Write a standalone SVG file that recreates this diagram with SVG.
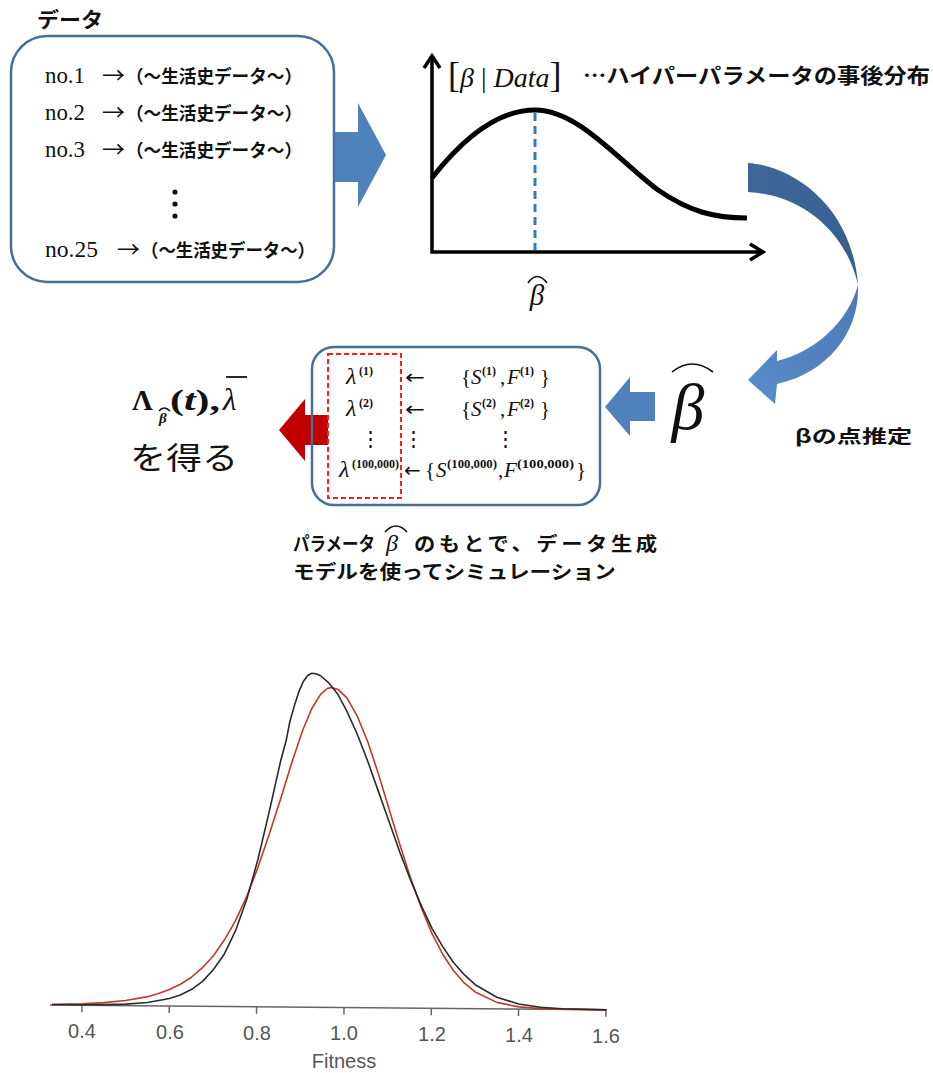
<svg xmlns="http://www.w3.org/2000/svg" width="933" height="1073" viewBox="0 0 933 1073">
<style>
.jp{font-family:"Noto Sans CJK JP","Noto Sans",sans-serif;font-weight:700;fill:#111}
.jpn{font-family:"Noto Sans CJK JP","Noto Sans",sans-serif;font-weight:400;fill:#111}
.ser{font-family:"Liberation Serif","Noto Sans CJK JP",serif;fill:#111}
.it{font-style:italic}
.lam{font-style:italic;font-size:24px}
.sup{font-size:12px;font-weight:700}
.la{font-family:"DejaVu Sans",sans-serif;font-size:20px;fill:#111}
.vd{font-family:"DejaVu Serif",serif;font-size:21px;fill:#111}
.bx{fill:none;stroke:#4a6c9b;stroke-width:2.5}
.hat{fill:none;stroke:#111;stroke-width:1.6}
.axis{fill:none;stroke:#000;stroke-width:3.5}
.tick{font-family:"Liberation Sans",Arial,sans-serif;font-size:20px;fill:#555}
</style>
<defs>
<linearGradient id="gTop" x1="0" y1="0" x2="1" y2="1">
<stop offset="0" stop-color="#3f679a"/><stop offset="1" stop-color="#365d8e"/>
</linearGradient>
<linearGradient id="gLow" x1="1" y1="0" x2="0" y2="1">
<stop offset="0" stop-color="#4a7ab6"/><stop offset="1" stop-color="#5a8cca"/>
</linearGradient>
</defs>

<g id="data-box">
<text class="jp" x="37" y="27" font-size="21" textLength="66" lengthAdjust="spacingAndGlyphs">データ</text>
<rect class="bx" x="11" y="36" width="323" height="246" rx="36"/>
<text class="ser" x="45" y="83" font-size="24" textLength="40" lengthAdjust="spacingAndGlyphs">no.1</text>
<text class="jpn" x="102" y="83" font-size="22" textLength="23" lengthAdjust="spacingAndGlyphs">→</text>
<text class="jp" x="126" y="83" font-size="18" textLength="176" lengthAdjust="spacingAndGlyphs">（〜生活史データ〜）</text>
<text class="ser" x="45" y="120" font-size="24" textLength="40" lengthAdjust="spacingAndGlyphs">no.2</text>
<text class="jpn" x="102" y="120" font-size="22" textLength="23" lengthAdjust="spacingAndGlyphs">→</text>
<text class="jp" x="126" y="120" font-size="18" textLength="176" lengthAdjust="spacingAndGlyphs">（〜生活史データ〜）</text>
<text class="ser" x="45" y="157" font-size="24" textLength="40" lengthAdjust="spacingAndGlyphs">no.3</text>
<text class="jpn" x="102" y="157" font-size="22" textLength="23" lengthAdjust="spacingAndGlyphs">→</text>
<text class="jp" x="126" y="157" font-size="18" textLength="176" lengthAdjust="spacingAndGlyphs">（〜生活史データ〜）</text>
<circle cx="175" cy="192" r="2.6" fill="#111"/>
<circle cx="175" cy="204" r="2.6" fill="#111"/>
<circle cx="175" cy="216" r="2.6" fill="#111"/>
<text class="ser" x="45" y="257" font-size="24" textLength="53" lengthAdjust="spacingAndGlyphs">no.25</text>
<text class="jpn" x="117" y="257" font-size="22" textLength="23" lengthAdjust="spacingAndGlyphs">→</text>
<text class="jp" x="141" y="257" font-size="18" textLength="174" lengthAdjust="spacingAndGlyphs">（〜生活史データ〜）</text>
</g>

<g id="posterior-graph">
<path class="axis" d="M432,58 L432,252 L762,252"/>
<path class="axis" d="M424,68 L432,56 L440,68 M750,244 L763,252 L750,260" stroke-linejoin="miter"/>
<path d="M432,178 C468,132 503,110 535,110 C578,110 618,160 658,190 C690,212 715,218 747,218" fill="none" stroke="#000" stroke-width="5"/>
<line x1="535" y1="113" x2="535" y2="250" stroke="#2e7bc4" stroke-width="3" stroke-dasharray="8,5"/>
<text class="ser it" x="537" y="305" font-size="29" text-anchor="middle">β</text>
<path class="hat" d="M528,283 Q537,270 547,283"/>
<text class="ser" x="448" y="87" font-size="28"><tspan font-size="36">[</tspan><tspan class="it">β</tspan> | <tspan class="it">Data</tspan><tspan font-size="36">]</tspan></text>
<text class="jp" x="583" y="83" font-size="21" textLength="347" lengthAdjust="spacingAndGlyphs">…ハイパーパラメータの事後分布</text>
</g>

<g id="beta-hat">
<text class="ser it" x="688" y="429" font-size="66" text-anchor="middle">β</text>
<path class="hat" stroke-width="2" d="M672,372 Q692,356 713,372"/>
<text class="jp" x="795" y="443" font-size="18" textLength="117" lengthAdjust="spacingAndGlyphs">βの点推定</text>
</g>

<g id="simulation-box">
<rect x="312" y="347" width="288" height="158" rx="22" fill="#fff"/>
<path d="M279,430 L305,399 L305,415 L328,415 L328,445 L305,445 L305,461 Z" fill="#c00000"/>
<rect class="bx" x="312" y="347" width="288" height="158" rx="22"/>
<rect x="328" y="354" width="73" height="144" fill="none" stroke="#ff1a1a" stroke-width="2" stroke-dasharray="5,3"/>
<g class="ser" font-size="21">
<text x="346" y="384"><tspan class="lam">λ</tspan><tspan class="sup" x="359" y="375">(1)</tspan></text>
<text class="la" x="405" y="384" textLength="20" lengthAdjust="spacingAndGlyphs">←</text>
<text x="461" y="384">{<tspan class="it" x="471">S</tspan><tspan class="sup" x="482" y="375">(1)</tspan><tspan x="500" y="384">,</tspan><tspan class="it" x="507">F</tspan><tspan class="sup" x="520" y="375">(1)</tspan><tspan x="540" y="384">}</tspan></text>
<text x="346" y="416"><tspan class="lam">λ</tspan><tspan class="sup" x="359" y="407">(2)</tspan></text>
<text class="la" x="405" y="416" textLength="20" lengthAdjust="spacingAndGlyphs">←</text>
<text x="461" y="416">{<tspan class="it" x="471">S</tspan><tspan class="sup" x="482" y="407">(2)</tspan><tspan x="500" y="416">,</tspan><tspan class="it" x="507">F</tspan><tspan class="sup" x="520" y="407">(2)</tspan><tspan x="540" y="416">}</tspan></text>
<text class="vd" x="370" y="446" text-anchor="middle">⋮</text>
<text class="vd" x="413" y="446" text-anchor="middle">⋮</text>
<text class="vd" x="505" y="446" text-anchor="middle">⋮</text>
<text x="339" y="477"><tspan class="lam">λ</tspan><tspan class="sup" x="352" y="468" textLength="47" lengthAdjust="spacingAndGlyphs">(100,000)</tspan></text>
<text x="404" y="477"><tspan class="la">←</tspan><tspan x="425">{</tspan><tspan class="it" x="436">S</tspan><tspan class="sup" x="447" y="468" textLength="50" lengthAdjust="spacingAndGlyphs">(100,000)</tspan><tspan x="498" y="477">,</tspan><tspan class="it" x="504">F</tspan><tspan class="sup" x="517" y="468" textLength="57" lengthAdjust="spacingAndGlyphs">(100,000)</tspan><tspan x="576" y="477">}</tspan></text>
</g>
</g>

<g id="result">
<text class="ser" x="132" y="410" font-size="29" font-weight="700">Λ</text>
<text class="ser it" x="159" y="423" font-size="15" font-weight="700">β</text>
<path class="hat" stroke-width="1.2" d="M159,411 Q164,405 170,411"/>
<text class="ser" x="170" y="410" font-size="30" font-weight="700" textLength="50" lengthAdjust="spacingAndGlyphs">(<tspan class="it">t</tspan>),</text>
<text class="ser it" x="223" y="410" font-size="31">λ</text>
<line x1="226" y1="377" x2="247" y2="377" stroke="#111" stroke-width="1.8"/>
<text class="jpn" x="130" y="469" font-size="31" textLength="108" lengthAdjust="spacingAndGlyphs">を得る</text>
</g>

<g id="caption">
<text class="jp" font-size="19" transform="translate(293,551) scale(0.87,1)">パラメータ</text>
<text class="ser it" x="386" y="551" font-size="24">β</text>
<path class="hat" stroke-width="1.4" d="M385,532 Q396,520 407,532"/>
<text class="jp" font-size="19" transform="translate(414,551) scale(1.12,1)" textLength="217" lengthAdjust="spacing">のもとで、データ生成</text>
<text class="jp" font-size="19" transform="translate(293,579) scale(1.14,1)">モデルを使ってシミュレーション</text>
</g>

<g id="connectors">
<polygon points="335,132 358,132 358,103 386,155 358,207 358,182 335,182" fill="#4f81bd"/>
<path d="M748,163 C792,166 852,205 858,285 C850,246 815,196 748,192 Z" fill="url(#gTop)"/>
<path d="M858,285 C860,330 830,372 777,384 L775,404 L748,380 L777,350 L777,361 C815,352 848,322 858,285 Z" fill="url(#gLow)"/>
<polygon points="605,407 630,377 630,392 655,392 655,421 630,421 630,436" fill="#4f81bd"/>
</g>

<g id="fitness-chart">
<g transform="rotate(0.5 50 1005)">
<line x1="50" y1="1005" x2="607" y2="1005" stroke="#666" stroke-width="1.5"/>
<g stroke="#666" stroke-width="1.5">
<line x1="82" y1="1005" x2="82" y2="1012"/>
<line x1="169.3" y1="1005" x2="169.3" y2="1012"/>
<line x1="256.6" y1="1005" x2="256.6" y2="1012"/>
<line x1="344" y1="1005" x2="344" y2="1012"/>
<line x1="431.3" y1="1005" x2="431.3" y2="1012"/>
<line x1="518.6" y1="1005" x2="518.6" y2="1012"/>
<line x1="606" y1="1005" x2="606" y2="1012"/>
</g>
<polyline fill="none" stroke="#c0392b" stroke-width="1.6" stroke-linejoin="round" points="52,1004.5 60.2,1004.1 82,1003.4 103.8,1002.2 125.7,999.9 147.5,995.8 158.4,992.6 169.3,988.5 180.2,983.1 191.2,976 202.1,966.4 213,954.3 223.9,938.3 234.8,919 245.7,895 256.6,866 267.5,833.1 278.5,798 289.4,761.4 300.3,728 309,706.7 317.8,692 324.4,686.1 328.7,685 335.3,686.9 344,695 354.9,713.8 365.8,740 376.7,772 387.6,807 398.5,841.6 409.5,875 420.4,904.5 431.3,930 442.2,950.8 453.1,967 464,979.3 475,988.2 496.8,998.5 518.6,1002.8 540.5,1004.3 606,1005"/>
<polyline fill="none" stroke="#2b2b2b" stroke-width="1.6" stroke-linejoin="round" points="52,1004.5 82,1004.5 104,1004.2 125.7,1003.5 147.5,1001.6 169.3,997.4 180.2,993.8 191.2,988.3 202.1,980.3 213,968.4 223.9,952.4 234.8,929.3 245.7,898 256.6,858 267.5,810 278.5,759 283.9,738.2 287.3,720 291.6,704 296,690 300.3,679.5 304.7,673.2 309,671 313.4,671.6 317.8,673.4 326.5,681 335.3,692.1 344,708 354.9,731.6 365.8,759 376.7,789 387.6,819 398.5,849.2 409.5,877 420.4,902.4 431.3,925 442.2,943.2 453.1,959 464,971.1 475,981 496.8,993.3 518.6,999.9 540.5,1003 562.3,1004.3 606,1005"/>
</g>
<text class="tick" x="82" y="1038" text-anchor="middle">0.4</text>
<text class="tick" x="170" y="1039" text-anchor="middle">0.6</text>
<text class="tick" x="257" y="1040" text-anchor="middle">0.8</text>
<text class="tick" x="344" y="1040" text-anchor="middle">1.0</text>
<text class="tick" x="432" y="1041" text-anchor="middle">1.2</text>
<text class="tick" x="519" y="1042" text-anchor="middle">1.4</text>
<text class="tick" x="606" y="1043" text-anchor="middle">1.6</text>
<text class="tick" x="344" y="1068" text-anchor="middle">Fitness</text>
</g>
</svg>
